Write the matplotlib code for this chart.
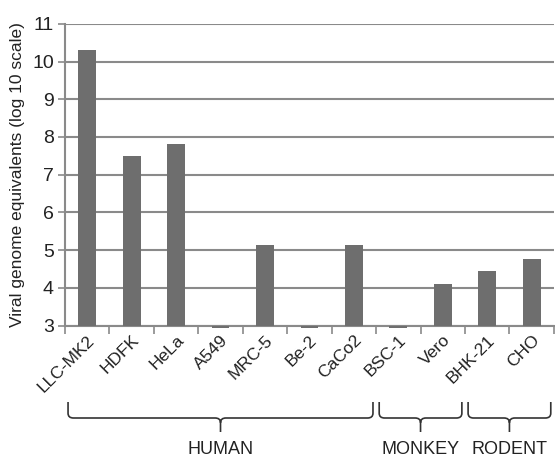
import matplotlib.pyplot as plt
from matplotlib.path import Path
from matplotlib.patches import PathPatch
import matplotlib.transforms as mtransforms
import numpy as np

plt.rcParams['font.family'] = ['Liberation Sans', 'DejaVu Sans']

# Viral genome equivalents per cell line (log10)
cell_lines = ["LLC-MK2", "HDFK", "HeLa", "A549", "MRC-5", "Be-2", "CaCo2",
              "BSC-1", "Vero", "BHK-21", "CHO"]
genome_log10 = [10.31, 7.5, 7.82, 2.95, 5.13, 2.95, 5.13, 2.95, 4.1, 4.46, 4.77]

# Host groups: (label, first index, last index)
groups = [("HUMAN", 0, 6), ("MONKEY", 7, 8), ("RODENT", 9, 10)]

base = 3
grey = "#8a8a8a"

fig = plt.figure(figsize=(5.55, 4.58), dpi=100)
ax = fig.add_axes([0.117, 0.289, 0.881, 0.659])

x = np.arange(len(cell_lines))
vals = np.array(genome_log10)
ax.bar(x, vals - base, bottom=base, width=0.4, color="#6e6e6e", zorder=3,
       clip_on=False)

ax.set_xlim(-0.5, len(cell_lines) - 0.5)
ax.set_ylim(3, 11)
ax.set_yticks(range(3, 12))
ax.tick_params(axis='y', labelsize=14, length=5, color=grey, width=1.2, pad=3,
               labelcolor="#222222")
ax.grid(axis='y', color=grey, linewidth=1.5, zorder=0)
ax.set_axisbelow(True)

ax.set_xticks(x)
ax.set_xticklabels(cell_lines, rotation=45, ha='right', va='top',
                   rotation_mode='anchor', fontsize=12.5, color="#222222")
ax.tick_params(axis='x', length=0, pad=5)
ax.set_xticks(np.arange(-0.5, len(cell_lines)), minor=True)
ax.tick_params(axis='x', which='minor', length=6, color=grey, width=1.2)

for side in ['top', 'right']:
    ax.spines[side].set_visible(False)
for side in ['left', 'bottom']:
    ax.spines[side].set_color(grey)
    ax.spines[side].set_linewidth(1.5)

ax.set_ylabel("Viral genome equivalents (log 10 scale)", fontsize=12.5,
              labelpad=5, color="#222222")

# Curly brackets under each group of cell lines
trans = mtransforms.blended_transform_factory(ax.transData, fig.transFigure)
y_top, y_mid, y_tip = 1 - 402 / 458, 1 - 418 / 458, 1 - 432 / 458
for label, i0, i1 in groups:
    x0 = i0 - 0.5 + 0.07
    x1 = i1 + 0.5 - 0.07
    xc = (x0 + x1) / 2
    rx = 0.12
    dy = (y_top - y_mid) * 0.3
    verts = [(x0, y_top), (x0, y_mid + dy), (x0, y_mid), (x0 + rx, y_mid),
             (xc - rx, y_mid), (xc, y_mid), (xc, y_mid - dy), (xc, y_tip),
             (xc, y_mid - dy), (xc, y_mid), (xc + rx, y_mid),
             (x1 - rx, y_mid), (x1, y_mid), (x1, y_mid + dy), (x1, y_top)]
    codes = [Path.MOVETO, Path.LINETO, Path.CURVE3, Path.CURVE3,
             Path.LINETO, Path.CURVE3, Path.CURVE3, Path.LINETO,
             Path.MOVETO, Path.CURVE3, Path.CURVE3,
             Path.LINETO, Path.CURVE3, Path.CURVE3, Path.LINETO]
    patch = PathPatch(Path(verts, codes), transform=trans, fill=False,
                      edgecolor="#333333", linewidth=1.2, clip_on=False)
    fig.add_artist(patch)
    ax.text(xc, 1 - 449 / 458, label, transform=trans, ha='center',
            va='center', fontsize=13, color="#222222")

fig.savefig("out.png", dpi=100)
